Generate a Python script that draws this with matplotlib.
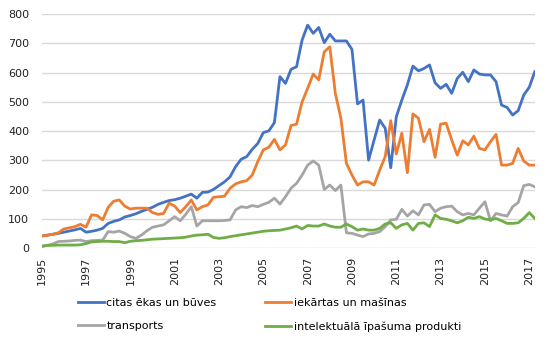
import matplotlib
matplotlib.use("Agg")
import matplotlib.pyplot as plt

# quarterly values, 1995 Q1 .. 2017 Q2
years = list(range(1995, 2018, 2))

citas_ekas = [
    42, 45, 48, 51, 55, 59, 63, 68, 55, 58, 62, 68, 85, 92, 97, 107,
    112, 118, 126, 133, 140, 150, 157, 163, 166, 171, 178, 185, 171, 191, 192, 201,
    214, 227, 244, 279, 304, 313, 338, 358, 395, 401, 429, 586, 563, 611, 620, 711,
    762, 734, 754, 702, 731, 708, 708, 708, 679, 493, 506, 301, 370, 438, 410, 275,
    449, 506, 558, 622, 606, 614, 626, 565, 546, 560, 529, 580, 601, 569, 609, 595,
    592, 592, 569, 489, 481, 455, 470, 523, 550, 603,
]

iekartas = [
    42, 44, 48, 53, 66, 70, 74, 82, 72, 114, 112, 97, 140, 161, 165, 144,
    134, 137, 137, 137, 122, 116, 119, 154, 144, 122, 142, 165, 131, 142, 148, 174,
    176, 178, 205, 220, 227, 231, 250, 296, 336, 345, 372, 336, 353, 419, 424, 500,
    546, 595, 575, 671, 688, 529, 444, 290, 250, 216, 227, 227, 216, 267, 313, 436,
    322, 393, 258, 459, 444, 364, 406, 311, 424, 427, 370, 318, 367, 353, 383, 341,
    336, 364, 389, 284, 284, 290, 341, 298, 284, 284,
]

transports = [
    8, 10, 15, 23, 24, 25, 27, 28, 23, 26, 27, 28, 57, 55, 59, 51,
    40, 34, 45, 60, 72, 76, 80, 94, 108, 94, 116, 142, 76, 94, 94, 94,
    94, 95, 97, 131, 142, 139, 146, 142, 150, 157, 171, 151, 176, 205, 222, 250,
    284, 298, 284, 201, 216, 197, 216, 53, 51, 45, 40, 49, 51, 57, 74, 97,
    99, 133, 110, 128, 114, 148, 150, 125, 137, 142, 144, 125, 114, 119, 114, 137,
    159, 94, 119, 114, 110, 142, 156, 214, 218, 210,
]

intelektuala = [
    6, 10, 10, 11, 11, 11, 11, 12, 16, 22, 23, 24, 24, 23, 23, 19,
    24, 26, 27, 29, 31, 32, 33, 34, 35, 36, 38, 42, 45, 46, 48, 37,
    34, 36, 40, 43, 46, 49, 52, 55, 58, 60, 61, 62, 66, 70, 76, 66,
    78, 76, 76, 83, 76, 72, 72, 83, 74, 62, 66, 62, 62, 68, 83, 87,
    68, 80, 85, 62, 85, 87, 74, 114, 102, 99, 94, 87, 94, 106, 102, 108,
    100, 97, 102, 94, 85, 85, 87, 102, 122, 102,
]

x = list(range(len(citas_ekas)))

fig = plt.figure(figsize=(5.52, 3.43), dpi=100)
ax = fig.add_axes([41.7 / 552, (343 - 248.3) / 343, (534.8 - 41.7) / 552, (248.3 - 14) / 343])

lw = 2.0
l1, = ax.plot(x, citas_ekas, color="#4472C4", lw=lw, label="citas ēkas un būves")
l2, = ax.plot(x, iekartas, color="#ED7D31", lw=lw, label="iekārtas un mašīnas")
l3, = ax.plot(x, transports, color="#A5A5A5", lw=lw, label="transports")
l4, = ax.plot(x, intelektuala, color="#70AD47", lw=lw, label="intelektuālā īpašuma produkti")

ax.set_xlim(0, len(x) - 1)
ax.set_ylim(0, 800)
ax.set_yticks(range(0, 801, 100))
ax.set_xticks(range(0, len(x), 8))
ax.set_xticklabels([str(y) for y in years], rotation=90)
ax.grid(axis="y", color="#d9d9d9", lw=1)
ax.set_axisbelow(True)
for s in ax.spines.values():
    s.set_visible(False)
ax.tick_params(length=0, labelsize=8, colors="#222222")
ax.tick_params(axis="y", pad=9)
ax.tick_params(axis="x", pad=6)

fig.legend(handles=[l1, l3, l2, l4], ncol=2, frameon=False, fontsize=8,
           loc="upper left", bbox_to_anchor=(78 / 552, 1 - 298 / 343),
           handlelength=2.3, handletextpad=0.25, columnspacing=4.4,
           labelspacing=1.2, borderaxespad=0, borderpad=0)

fig.savefig("out.png", dpi=100)
